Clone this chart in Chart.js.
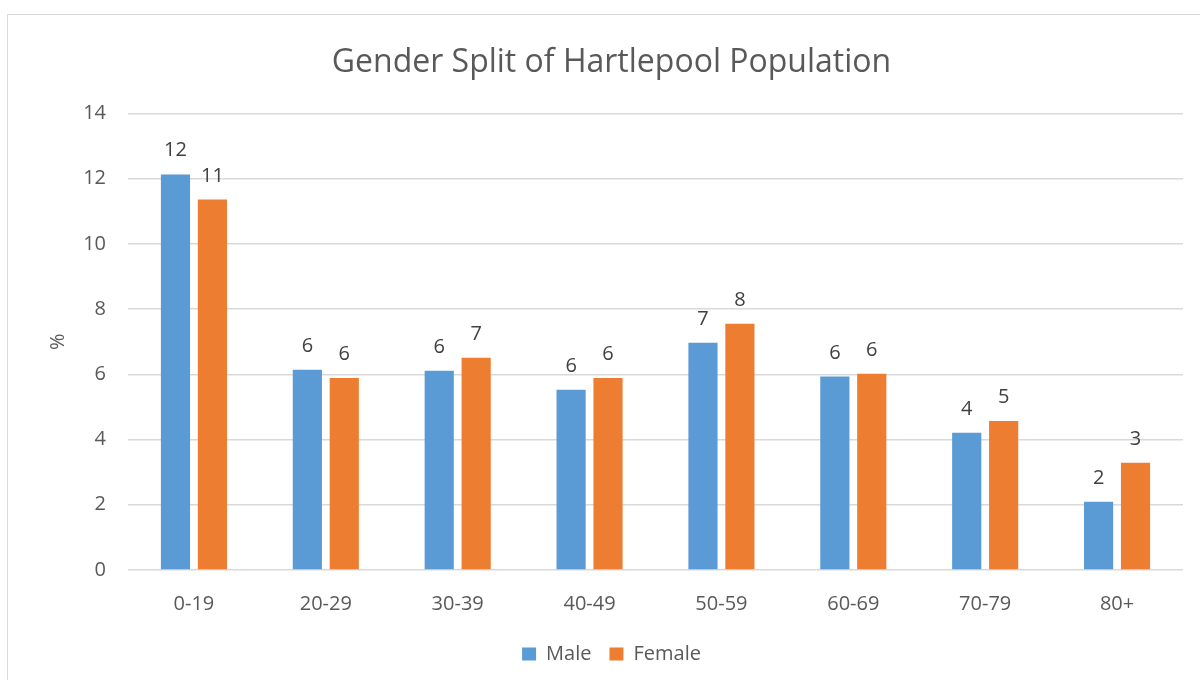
<!DOCTYPE html>
<html>
<head>
<meta charset="utf-8">
<script src="https://cdn.jsdelivr.net/npm/chart.js@4"></script>
<style>
  html, body { margin: 0; padding: 0; background: #fff; }
  #frame { position: absolute; left: 7px; top: 14px; width: 1200px; height: 680px; border: 1px solid #d9d9d9; box-sizing: border-box; }
  #wrap { position: absolute; left: 0; top: 0; width: 1200px; height: 680px; }
</style>
</head>
<body>
<div id="frame"></div>
<div id="wrap"><canvas id="popChart"></canvas></div>
<script>
const ageGroups = ['0-19', '20-29', '30-39', '40-49', '50-59', '60-69', '70-79', '80+'];
const maleValues = [12.13, 6.14, 6.11, 5.53, 6.97, 5.93, 4.21, 2.09];
const femaleValues = [11.36, 5.89, 6.51, 5.89, 7.55, 6.02, 4.57, 3.29];
const yTicks = [0, 2, 4, 6, 8, 10, 12, 14];

const fontFamily = '"Open Sans", "Liberation Sans", sans-serif';

// draws the rounded value above each bar, like Excel data labels
const valueLabels = {
    id: 'valueLabels',
    afterDatasetsDraw(chart) {
        const ctx = chart.ctx;
        ctx.save();
        ctx.font = '20px ' + fontFamily;
        ctx.fillStyle = '#404040';
        ctx.textAlign = 'center';
        ctx.textBaseline = 'alphabetic';
        chart.data.datasets.forEach((ds, i) => {
            chart.getDatasetMeta(i).data.forEach((bar, j) => {
                ctx.fillText(Math.round(ds.data[j]), bar.x, bar.y - 18);
            });
        });
        ctx.restore();
    }
};

document.addEventListener('DOMContentLoaded', function () {
    const ctx = document.getElementById('popChart').getContext('2d');

    new Chart(ctx, {
        type: 'bar',
        data: {
            labels: ageGroups,
            datasets: [{
                label: 'Male',
                data: maleValues,
                backgroundColor: '#5b9bd5',
                borderWidth: 0,
                categoryPercentage: 0.56,
                barPercentage: 0.79
            }, {
                label: 'Female',
                data: femaleValues,
                backgroundColor: '#ed7d31',
                borderWidth: 0,
                categoryPercentage: 0.56,
                barPercentage: 0.79
            }]
        },
        options: {
            responsive: true,
            maintainAspectRatio: false,
            animation: false,
            layout: {
                padding: { left: 40, right: 17, top: 20, bottom: 6 }
            },
            scales: {
                y: {
                    min: 0,
                    max: 14,
                    afterBuildTicks: function (axis) {
                        axis.ticks = yTicks.map(v => ({ value: v }));
                    },
                    afterFit: function (axis) {
                        axis.width = 88;
                    },
                    border: { display: false },
                    grid: { color: '#d9d9d9', lineWidth: 1.5, drawTicks: false },
                    ticks: {
                        color: '#595959',
                        font: { size: 20, family: fontFamily },
                        padding: 22
                    },
                    title: {
                        display: true,
                        text: '%',
                        color: '#595959',
                        font: { size: 20, family: fontFamily },
                        padding: { top: 6, bottom: 0 }
                    }
                },
                x: {
                    border: { display: false },
                    grid: { display: false, drawTicks: false },
                    afterFit: function (axis) {
                        axis.height = 56;
                    },
                    ticks: {
                        color: '#595959',
                        font: { size: 20, family: fontFamily },
                        padding: 22
                    }
                }
            },
            plugins: {
                title: {
                    display: true,
                    text: 'Gender Split of Hartlepool Population',
                    color: '#595959',
                    font: { size: 32, family: fontFamily, weight: 'normal' },
                    padding: { top: 24, bottom: 31 }
                },
                legend: {
                    position: 'bottom',
                    labels: {
                        color: '#595959',
                        font: { size: 20, family: fontFamily },
                        boxWidth: 14,
                        boxHeight: 13,
                        padding: 18
                    }
                },
                tooltip: { enabled: false }
            }
        },
        plugins: [valueLabels]
    });
});
</script>
</body>
</html>
